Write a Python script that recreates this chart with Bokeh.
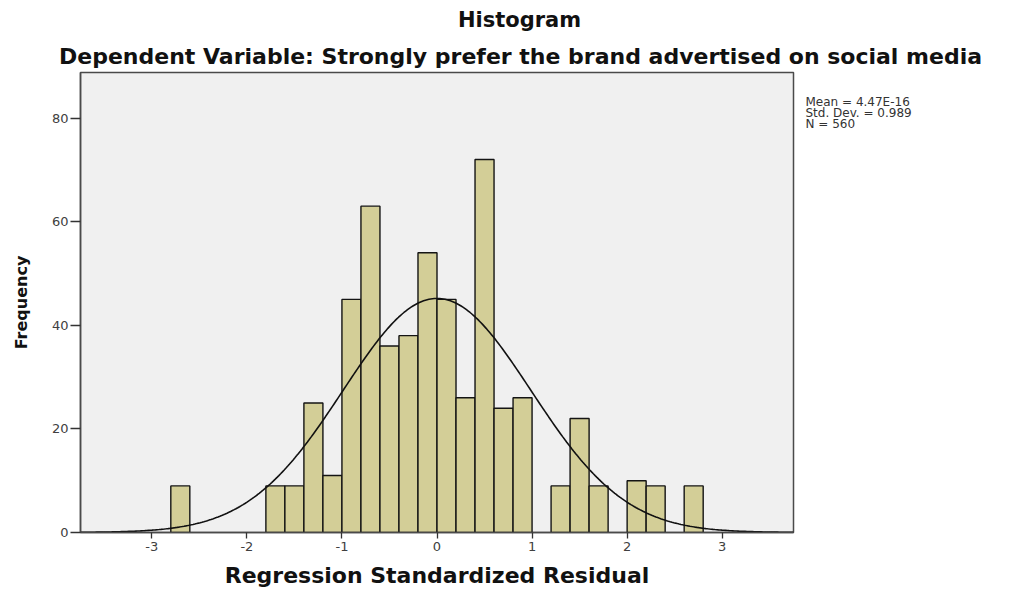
import numpy as np
from bokeh.plotting import figure
from bokeh.layouts import column, row
from bokeh.models import Range1d, FixedTicker, ColumnDataSource, Label
from bokeh.embed import file_html
from bokeh.resources import INLINE

# ---- data ----
bin_width = 0.2
bin_lefts = [-2.8, -1.8, -1.6, -1.4, -1.2, -1.0, -0.8, -0.6, -0.4, -0.2,
             0.0, 0.2, 0.4, 0.6, 0.8, 1.2, 1.4, 1.6, 2.0, 2.2, 2.6]
counts = [9, 9, 9, 25, 11, 45, 63, 36, 38, 54,
          45, 26, 72, 24, 26, 9, 22, 9, 10, 9, 9]
mean_val = 4.47e-16
std_val = 0.989
n_val = 560
x_ticks = [-3, -2, -1, 0, 1, 2, 3]
x_tick_labels = ["-3", "-2", "-1", "0", "1", "2", "3"]
y_ticks = [0, 20, 40, 60, 80]
stats_lines = ["Mean = 4.47E-16", "Std. Dev. = 0.989", "N = 560"]
title_text = "Histogram"
subtitle_text = "Dependent Variable: Strongly prefer the brand advertised on social media"
x_label = "Regression Standardized Residual"
y_label = "Frequency"

FONT = "DejaVu Sans"
TOTAL_W = 1005
TOP_H = 70
MAIN_W = 795
MAIN_H = 521


def blank_fig(w, h):
    f = figure(width=w, height=h, output_backend="svg", toolbar_location=None,
               x_range=Range1d(0, w), y_range=Range1d(0, h),
               x_axis_type=None, y_axis_type=None,
               min_border=0, min_border_left=0, min_border_right=0,
               min_border_top=0, min_border_bottom=0)
    f.outline_line_color = None
    f.grid.visible = False
    f.background_fill_color = "white"
    f.border_fill_color = "white"
    return f


# ---- title strip ----
top = blank_fig(TOTAL_W, TOP_H)
top.add_layout(Label(x=519, y=TOP_H - 19, text=title_text, text_align="center",
                     text_baseline="middle", text_font=FONT, text_font_style="bold",
                     text_font_size="21px", text_color="#111111"))
top.add_layout(Label(x=520, y=TOP_H - 56, text=subtitle_text, text_align="center",
                     text_baseline="middle", text_font=FONT, text_font_style="bold",
                     text_font_size="22px", text_color="#111111"))

# ---- main histogram ----
p = figure(width=MAIN_W, height=MAIN_H, output_backend="svg", toolbar_location=None,
           x_range=Range1d(-3.75, 3.75), y_range=Range1d(0, 88.8),
           min_border_left=80, min_border_right=2,
           min_border_top=2, min_border_bottom=59)
p.background_fill_color = "#F0F0F0"
p.border_fill_color = "white"
p.outline_line_color = "#4a4a4a"
p.outline_line_width = 1.5
p.grid.visible = False

src = ColumnDataSource(dict(
    left=bin_lefts,
    right=[b + bin_width for b in bin_lefts],
    top=counts,
    bottom=[0] * len(counts),
))
p.quad(left="left", right="right", top="top", bottom="bottom", source=src,
       fill_color="#D3CE97", line_color="#141414", line_width=1.4)

# fitted normal curve from the stated mean / std / N
xs = np.linspace(-3.75, 3.75, 400)
ys = n_val * bin_width * np.exp(-0.5 * ((xs - mean_val) / std_val) ** 2) / (std_val * np.sqrt(2 * np.pi))
p.line(xs, ys, line_color="#111111", line_width=1.6)

for ax in (p.xaxis[0], p.yaxis[0]):
    ax.axis_line_color = "#4a4a4a"
    ax.axis_line_width = 1.5
    ax.major_tick_line_color = "#333333"
    ax.major_tick_line_width = 1.3
    ax.major_tick_in = 0
    ax.minor_tick_line_color = None
    ax.major_label_text_font = FONT
    ax.major_label_text_font_size = "13px"
    ax.major_label_text_color = "#404040"
    ax.axis_label_text_font = FONT
    ax.axis_label_text_font_style = "bold"
    ax.axis_label_text_color = "#111111"

p.xaxis.ticker = FixedTicker(ticks=x_ticks)
p.xaxis.major_label_overrides = {t: s for t, s in zip(x_ticks, x_tick_labels)}
p.yaxis.ticker = FixedTicker(ticks=y_ticks)
p.xaxis.major_tick_out = 6
p.xaxis.major_label_standoff = 3
p.xaxis.axis_label = x_label
p.xaxis.axis_label_text_font_size = "22px"
p.xaxis.axis_label_standoff = 9

p.yaxis.major_tick_out = 10
p.yaxis.major_label_standoff = 2
p.yaxis.axis_label = y_label
p.yaxis.axis_label_text_font_size = "16px"
p.yaxis.axis_label_standoff = 18

# ---- stats text to the right ----
side_w = TOTAL_W - MAIN_W
side = blank_fig(side_w, MAIN_H)
for i, line in enumerate(stats_lines):
    page_y = 103 + 12.5 * i
    side.add_layout(Label(x=805 - MAIN_W, y=MAIN_H - (page_y - TOP_H), text=line,
                          text_align="left", text_baseline="middle", text_font=FONT,
                          text_font_size="12px", text_color="#333333"))

layout = column(top, row(p, side, spacing=0), spacing=0)
open("out.html", "w").write(file_html(layout, INLINE))
